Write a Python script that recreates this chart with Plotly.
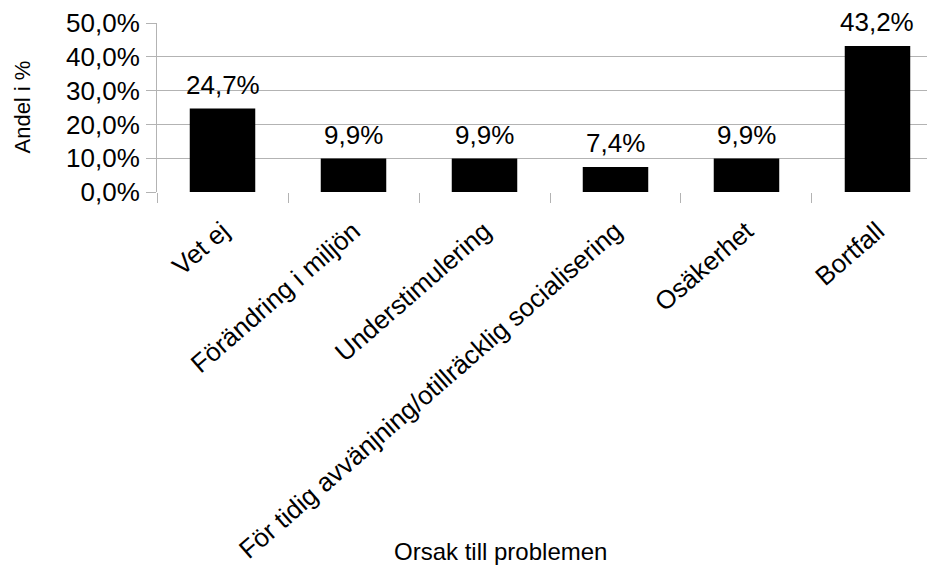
import plotly.graph_objects as go

categories = ["Vet ej", "Förändring i miljön", "Understimulering",
              "För tidig avvänjning/otillräcklig socialisering", "Osäkerhet", "Bortfall"]
values = [0.247, 0.099, 0.099, 0.074, 0.099, 0.432]
y_ticks = [0, 0.1, 0.2, 0.3, 0.4, 0.5]
x_title = "Orsak till problemen"
y_title = "Andel i %"

FONT = "Liberation Sans, Arial, sans-serif"

fig = go.Figure(go.Bar(
    x=categories, y=values,
    marker=dict(color="#000000", line=dict(width=0)),
    width=0.5,
    hoverinfo="x+y",
))

label_annotations = [
    dict(x=c, y=v, xref="x", yref="y", text=f"{v*100:.1f}%".replace(".", ","),
         xanchor="center", yanchor="bottom", yshift=7, showarrow=False,
         font=dict(family=FONT, size=26, color="#000000"))
    for c, v in zip(categories, values)
]

fig.update_layout(
    width=935, height=567,
    margin=dict(l=149, r=8, t=15, b=383, autoexpand=False),
    paper_bgcolor="white", plot_bgcolor="white",
    separators=",.",
    showlegend=False,
    font=dict(family=FONT, size=26, color="#000000"),
    xaxis=dict(
        range=[-0.5, 5.439], tickangle=-41, tickson="boundaries",
        ticks="outside", ticklen=10, tickcolor="#b3b3b3",
        showgrid=False, showline=False, zeroline=False, automargin=False,
        ticklabelstandoff=18,
        tickfont=dict(family=FONT, size=26, color="#000000"),
    ),
    yaxis=dict(
        range=[0, 0.5], tickvals=y_ticks, tickformat=".1%",
        ticks="outside", ticklen=10, tickcolor="#b3b3b3",
        showgrid=True, gridcolor="#b3b3b3", gridwidth=1,
        showline=True, linecolor="#b3b3b3", linewidth=1,
        zeroline=False, ticklabelstandoff=1, automargin=False,
        tickfont=dict(family=FONT, size=26, color="#000000"),
    ),
    annotations=label_annotations + [
        dict(text=x_title, xref="paper", yref="paper", x=0.442, y=-2.13,
             xanchor="center", yanchor="middle", showarrow=False,
             font=dict(family=FONT, size=24, color="#000000")),
        dict(text=y_title, xref="paper", yref="paper", x=-0.1735, y=0.5,
             xanchor="center", yanchor="middle", textangle=-90, showarrow=False,
             font=dict(family=FONT, size=22, color="#000000")),
    ],
)

fig.write_html("out.html")
